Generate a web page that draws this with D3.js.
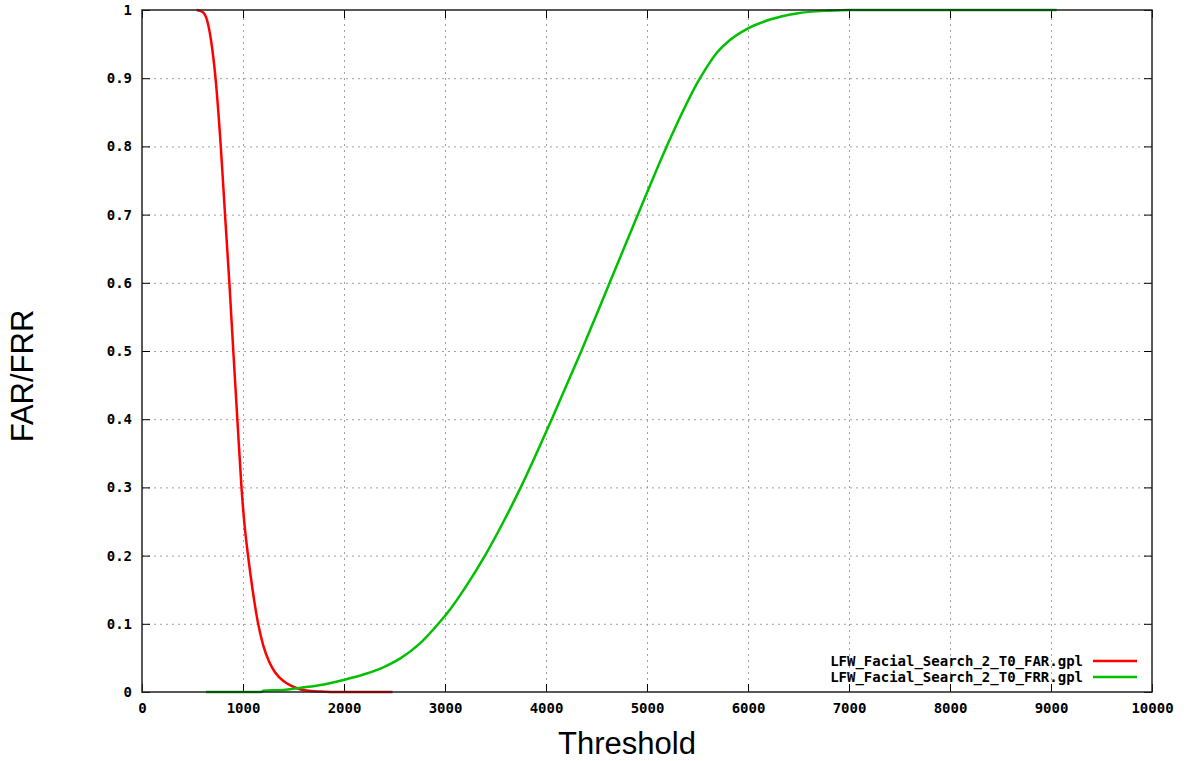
<!DOCTYPE html>
<html>
<head>
<meta charset="utf-8">
<script src="https://cdn.jsdelivr.net/npm/d3@7"></script>
<style>
  body { margin: 0; background: #fff; }
  .tick text { font-family: "DejaVu Sans Mono", monospace; font-weight: bold; font-size: 14px; fill: #000; }
  .grid line { stroke: #a0a0a0; stroke-dasharray: 2,4; }
  .grid path { display: none; }
</style>
</head>
<body>
<div id="chart"></div>
<script>
// Values
const farThreshold = [541, 600, 644, 683, 728, 780, 822, 865, 904, 944, 985, 1012, 1050, 1095, 1150, 1201, 1260, 1317, 1400, 1465, 1564, 1650, 1800, 1900, 2480];
const farValues    = [1, 0.997, 0.985, 0.956, 0.9, 0.8, 0.7, 0.6, 0.5, 0.4, 0.3, 0.25, 0.2, 0.15, 0.1, 0.068, 0.044, 0.029, 0.016, 0.01, 0.004, 0.002, 0.0005, 0, 0];

const frrThreshold = [634, 1180, 1200, 1400, 1560, 1800, 1993, 2200, 2400, 2554, 2750, 2934, 3050, 3200, 3396, 3580, 3750, 4057, 4350, 4630, 4910, 5195, 5525, 5690, 5822, 5987, 6218, 6482, 6800, 7000, 9056];
const frrValues    = [0, 0, 0.002, 0.003, 0.006, 0.011, 0.0176, 0.026, 0.037, 0.049, 0.071, 0.1, 0.121, 0.153, 0.2, 0.25, 0.3, 0.4, 0.5, 0.6, 0.7, 0.8, 0.9, 0.937, 0.956, 0.972, 0.986, 0.995, 0.999, 1, 1];

const xTicks = [0, 1000, 2000, 3000, 4000, 5000, 6000, 7000, 8000, 9000, 10000];
const yTicks = [0, 0.1, 0.2, 0.3, 0.4, 0.5, 0.6, 0.7, 0.8, 0.9, 1];

const seriesNames = ["LFW_Facial_Search_2_T0_FAR.gpl", "LFW_Facial_Search_2_T0_FRR.gpl"];
const seriesColors = ["#ff0000", "#00c000"];

// Dimensions
let margin = {top: 10, right: 36, bottom: 69, left: 142};
let width = 1188 - margin.left - margin.right;
let height = 761 - margin.top - margin.bottom;

let root = d3.select("#chart").append("svg")
    .attr("width", 1188)
    .attr("height", 761);

let svg = root.append("g")
    .attr("transform", `translate(${margin.left}, ${margin.top})`);

const x = d3.scaleLinear().domain([0, 10000]).range([0, width]);
const y = d3.scaleLinear().domain([0, 1]).range([height, 0]);

// Grid
svg.append("g")
    .attr("class", "grid")
    .attr("transform", `translate(0, ${height})`)
    .call(d3.axisBottom(x).tickValues(xTicks.slice(1, -1)).tickSize(-height).tickFormat(""));

svg.append("g")
    .attr("class", "grid")
    .call(d3.axisLeft(y).tickValues(yTicks.slice(1, -1)).tickSize(-width).tickFormat(""));

// Axes with inward ticks
const yFmt = d => (d === 0 || d === 1) ? d : d.toFixed(1);

svg.append("g")
    .attr("transform", `translate(0, ${height})`)
    .call(d3.axisBottom(x).tickValues(xTicks).tickSize(-8).tickPadding(11).tickFormat(d3.format("d")))
    .call(g => g.select(".domain").remove());

svg.append("g")
    .call(d3.axisTop(x).tickValues(xTicks).tickSize(-8).tickFormat(""))
    .call(g => g.select(".domain").remove());

svg.append("g")
    .call(d3.axisLeft(y).tickValues(yTicks).tickSize(-8).tickPadding(10).tickFormat(yFmt))
    .call(g => g.select(".domain").remove());

svg.append("g")
    .attr("transform", `translate(${width}, 0)`)
    .call(d3.axisRight(y).tickValues(yTicks).tickSize(-8).tickFormat(""))
    .call(g => g.select(".domain").remove());

svg.selectAll(".tick line").attr("stroke", "#000");

// Curves
const line = d3.line()
    .x(d => x(d[0]))
    .y(d => y(d[1]))
    .curve(d3.curveMonotoneX);

const series = [
    d3.zip(farThreshold, farValues),
    d3.zip(frrThreshold, frrValues)
];

svg.selectAll(".curve")
    .data(series)
    .enter()
    .append("path")
    .attr("class", "curve")
    .attr("fill", "none")
    .attr("stroke", (d, i) => seriesColors[i])
    .attr("stroke-width", 2.5)
    .attr("d", line);

// Border
svg.append("rect")
    .attr("width", width)
    .attr("height", height)
    .attr("fill", "none")
    .attr("stroke", "#222")
    .attr("stroke-width", 1.5);

// Legend
const legend = svg.append("g")
    .attr("transform", `translate(${width - 69}, ${height - 31})`);

seriesNames.forEach((name, i) => {
    legend.append("text")
        .attr("x", 0)
        .attr("y", i * 16)
        .attr("dy", "0.35em")
        .attr("text-anchor", "end")
        .style("font-family", "'DejaVu Sans Mono', monospace")
        .style("font-weight", "bold")
        .style("font-size", "14px")
        .text(name);
    legend.append("line")
        .attr("x1", 10)
        .attr("x2", 54)
        .attr("y1", i * 16)
        .attr("y2", i * 16)
        .attr("stroke", seriesColors[i])
        .attr("stroke-width", 2.5);
});

// Axis titles
root.append("text")
    .attr("x", 627)
    .attr("y", 754)
    .attr("text-anchor", "middle")
    .style("font-family", "'Liberation Sans', Arial, sans-serif")
    .style("font-size", "31px")
    .text("Threshold");

root.append("text")
    .attr("transform", "translate(33, 376) rotate(-90)")
    .attr("text-anchor", "middle")
    .style("font-family", "'Liberation Sans', Arial, sans-serif")
    .style("font-size", "31px")
    .text("FAR/FRR");
</script>
</body>
</html>
